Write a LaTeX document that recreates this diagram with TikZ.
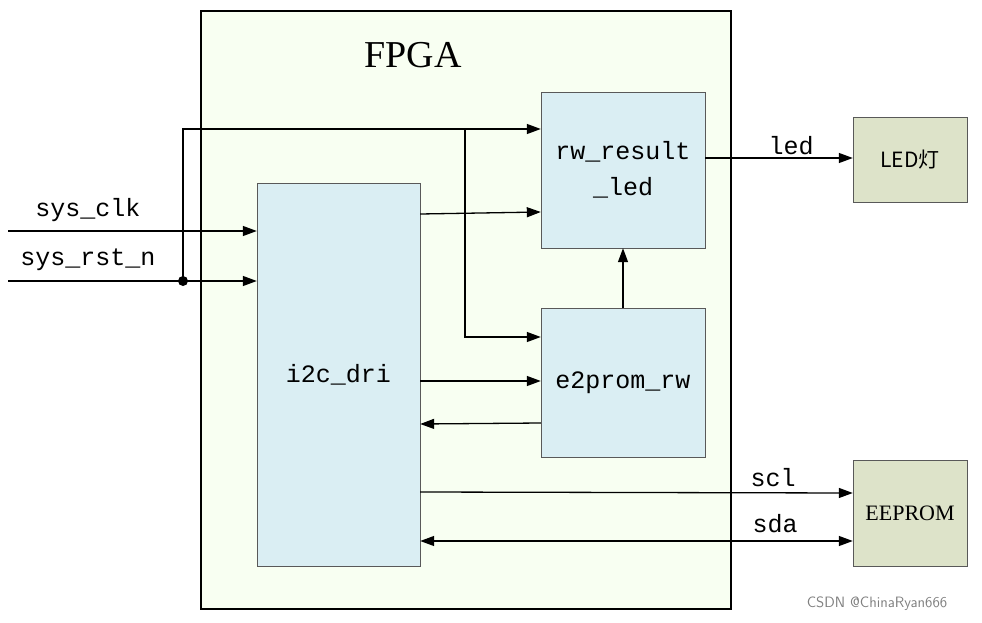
\documentclass[tikz,border=0pt]{standalone}
\usepackage{fontspec}
\setmainfont{Liberation Serif}
\setmonofont{Liberation Mono}
\newfontfamily\cjk{Noto Sans CJK SC}
\usetikzlibrary{arrows.meta,positioning}
\definecolor{fpgabg}{HTML}{F8FFF2}
\definecolor{modbg}{HTML}{DAEEF3}
\definecolor{extbg}{HTML}{DDE3C9}
\tikzset{
  module/.style={draw=gray!70!black,fill=modbg,thin,inner sep=0pt},
  extdev/.style={draw=gray!70!black,fill=extbg,thin,inner sep=0pt},
  sig/.style={line width=1.3pt,-{Triangle[length=14pt,width=10pt]}},
  lbl/.style={font=\ttfamily\fontsize{25}{36}\selectfont}
}
\begin{document}
\begin{tikzpicture}[x=1pt,y=-1pt]
\useasboundingbox (0,0) rectangle (982,623);
\draw[line width=2.5pt,fill=fpgabg] (201,11) rectangle (731,609);
\node[font=\fontsize{38}{42}\selectfont] (fpga) at (413,55) {FPGA};
% modules
\node[module,minimum width=163pt,minimum height=383pt,lbl] (i2c) at (338.5,374.5) {i2c\_dri};
\node[module,minimum width=164pt,minimum height=156pt,lbl,align=center] (rw) at (623,170) {rw\_result\\\_led};
\node[module,minimum width=164pt,minimum height=149pt,lbl] (e2p) at (623,382.5) {e2prom\_rw};
\node[extdev,minimum width=114pt,minimum height=85pt,font=\cjk\fontsize{21}{24}\selectfont] (led) at (910,159.5) {LED灯};
\node[extdev,minimum width=114pt,minimum height=106pt,font=\fontsize{22}{24}\selectfont] (eep) at (910,513) {EEPROM};
% inputs
\coordinate (clkin) at (8,231);
\coordinate (rstin) at (8,281);
\coordinate (rstdot) at (183,281);
\coordinate (branch) at (465,129);
\draw[sig] (clkin) -- (clkin -| i2c.west);
\node[lbl] (clklbl) at (88,210) {sys\_clk};
\draw[sig] (rstin) -- (rstin -| i2c.west);
\node[lbl] (rstlbl) at (88,260) {sys\_rst\_n};
\fill (rstdot) circle (5pt);
\draw[sig] (rstdot) |- (rstdot |- branch) -- (branch -| rw.west);
\draw[sig] (branch) |- (e2p.west |- 0,337);
% internal
\draw[sig] (i2c.east |- 0,214) -- (rw.west |- 0,212);
\draw[sig] (i2c.east |- 0,381) -- (e2p.west |- 0,381);
\draw[sig] (e2p.west |- 0,423) -- (i2c.east |- 0,424);
\draw[sig] (e2p.north) -- (rw.south);
% outputs
\draw[sig] (rw.east |- 0,158) -- (led.west |- 0,158);
\node[lbl] (ledlbl) at (791,146) {led};
\draw[sig] (i2c.east |- 0,492) -- (eep.west |- 0,493);
\node[lbl] (scllbl) at (773,478) {scl};
\draw[sig,{Triangle[length=14pt,width=10pt]}-{Triangle[length=14pt,width=10pt]}] (i2c.east |- 0,541) -- (eep.west |- 0,541);
\node[lbl] (sdalbl) at (775,524) {sda};
\node[font=\sffamily\fontsize{15}{17}\selectfont,text=gray] (mark) at (877,604) {CSDN @ChinaRyan666};
\end{tikzpicture}
\end{document}
